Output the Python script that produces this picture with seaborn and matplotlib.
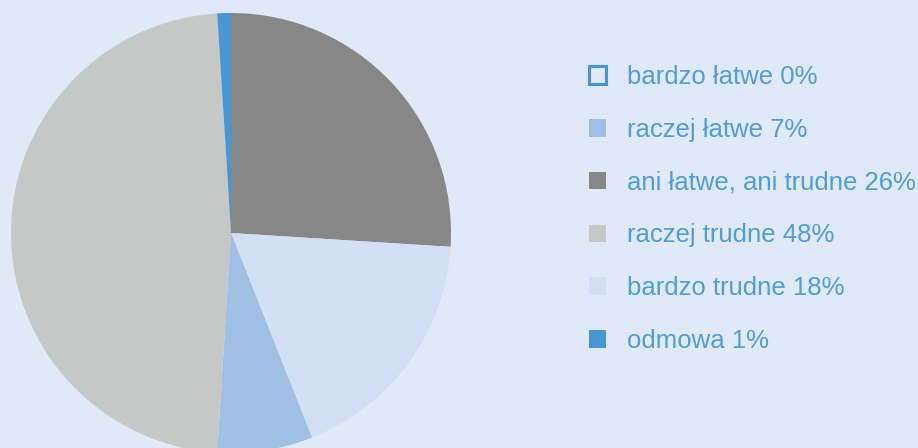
import matplotlib
matplotlib.use("Agg")
import matplotlib.pyplot as plt
from matplotlib.patches import Patch
import seaborn as sns

# legend order
categories = ["bardzo łatwe", "raczej łatwe", "ani łatwe, ani trudne",
              "raczej trudne", "bardzo trudne", "odmowa"]
values = [0, 7, 26, 48, 18, 1]
colors = ["#4A96D2", "#A0BFE5", "#878787", "#C6C7C7", "#D2DFF4", "#4A96D2"]
# clockwise drawing order of the pie starting at 12 o'clock
draw_order = ["ani łatwe, ani trudne", "bardzo trudne", "raczej łatwe",
              "raczej trudne", "odmowa"]

sns.set_style("white")
plt.rcParams['font.family'] = ['Liberation Sans', 'DejaVu Sans']
bg = "#E0E9F7"
text_color = "#529CD7"

fig = plt.figure(figsize=(9.18, 4.48), dpi=100)
fig.patch.set_facecolor(bg)

W, H = 918, 448
cx, cy, r = 231, 233, 220
ax = fig.add_axes([(cx - r) / W, (H - cy - r) / H, 2 * r / W, 2 * r / H])
ax.set_facecolor(bg)
ax.axis("off")

idx = [categories.index(c) for c in draw_order]
ax.pie([values[i] for i in idx], colors=[colors[i] for i in idx],
       startangle=90, counterclock=False, radius=1,
       wedgeprops=dict(linewidth=0))
ax.set_xlim(-1, 1)
ax.set_ylim(-1, 1)
ax.set_aspect("equal")

handles = []
for i, (c, v) in enumerate(zip(categories, values)):
    if i == 0:
        handles.append(Patch(facecolor="none", edgecolor=colors[i], linewidth=2.2))
    else:
        handles.append(Patch(facecolor=colors[i], edgecolor="none"))
labels = [f"{c} {v}%" for c, v in zip(categories, values)]

leg = fig.legend(handles, labels, loc="center left",
                 bbox_to_anchor=(589 / W, 1 - 209 / H),
                 frameon=False, fontsize=18.5, borderpad=0, borderaxespad=0,
                 handlelength=0.68, handleheight=0.68, handletextpad=0.8,
                 labelspacing=1.12)
for t in leg.get_texts():
    t.set_color(text_color)

fig.savefig("out.png", dpi=100, facecolor=bg)
